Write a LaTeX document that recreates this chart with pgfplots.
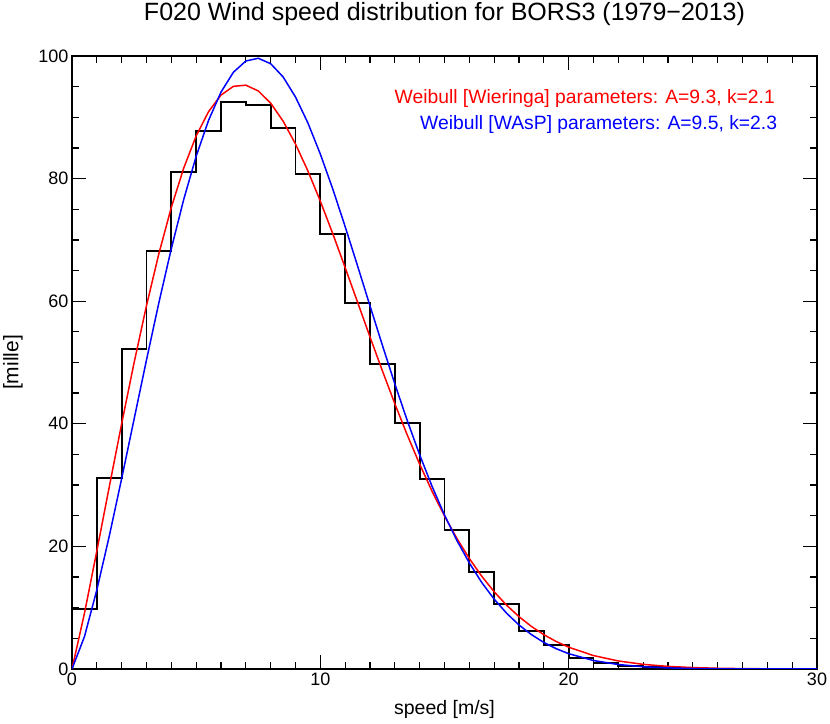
\documentclass[border=0pt]{standalone}
\usepackage{fontspec}
\setmainfont{Liberation Sans}
\usepackage{pgfplots}
\pgfplotsset{compat=1.18}
\begin{document}
\begin{tikzpicture}
\begin{axis}[
 scale only axis, width=745pt, height=613pt,
 xmin=0, xmax=30, ymin=0, ymax=100,
 xtick={0,10,20,30}, ytick={0,20,40,60,80,100},
 minor x tick num=9, minor y tick num=3,
 tick align=inside, major tick length=14pt, minor tick length=7pt,
 tick style={line width=1.3pt, black},
 axis line style={line width=1.5pt},
 ticklabel style={font=\fontsize{18}{18}\selectfont},
 /pgf/number format/assume math mode=true,
 xlabel={speed [m/s]}, ylabel={[mille]},
 xlabel style={font=\fontsize{19.5}{19.5}\selectfont, at={(axis description cs:0.5,-0.075)}, anchor=base},
 ylabel style={font=\fontsize{21}{21}\selectfont, at={(axis description cs:-0.0792,0.5)}, anchor=center},
 title={F020 Wind speed distribution for BORS3 (1979−2013)},
 title style={font=\fontsize{25}{25}\selectfont, at={(axis description cs:0.5,1.0473)}, anchor=base},
]
\coordinate (sw) at (rel axis cs:0,0);
\coordinate (ne) at (rel axis cs:1,1);
\addplot[black, line width=1.7pt, const plot mark left] coordinates {
(0,9.8)(1,31.2)(2,52.2)(3,68.2)(4,81.1)(5,87.8)(6,92.5)(7,92.0)(8,88.3)(9,80.8)
(10,71.0)(11,59.7)(12,49.7)(13,40.1)(14,31.0)(15,22.7)(16,15.8)(17,10.6)(18,6.2)(19,3.9)
(20,1.85)(21,1.0)(22,0.5)(23,0.3)(24,0.15)(25,0.1)(26,0.05)(27,0)(28,0)(29,0)(30,0)};
\addplot[red, line width=1.5pt] coordinates {
(0,0)(0.5,9.05)(1,19.25)(1.5,29.70)(2,40.02)(2.5,49.96)(3,59.28)(3.5,67.78)(4,75.31)(4.5,81.73)
(5,86.96)(5.5,90.93)(6,93.62)(6.5,95.05)(7,95.24)(7.5,94.30)(8,92.31)(8.5,89.38)(9,85.64)(9.5,81.24)
(10,76.32)(10.5,71.02)(11,65.47)(11.5,59.83)(12,54.17)(12.5,48.63)(13,43.27)(13.5,38.18)(14,33.41)(14.5,28.99)
(15,24.95)(15.5,21.29)(16,18.02)(16.5,15.13)(17,12.60)(17.5,10.41)(18,8.54)(18.5,6.94)(19,5.60)(19.5,4.48)
(20,3.56)(21,2.19)(22,1.31)(23,0.756)(24,0.423)(25,0.230)(26,0.121)(27,0.062)(28,0.03)(29,0.014)(30,0.006)};
\addplot[blue, line width=1.5pt] coordinates {
(0,0)(0.5,5.26)(1,12.90)(1.5,21.66)(2,31.06)(2.5,40.75)(3,50.42)(3.5,59.78)(4,68.58)(4.5,76.61)
(5,83.64)(5.5,89.51)(6,94.11)(6.5,97.35)(7,99.18)(7.5,99.63)(8,98.74)(8.5,96.59)(9,93.31)(9.5,89.07)
(10,84.00)(10.5,78.31)(11,72.16)(11.5,65.75)(12,59.24)(12.5,52.80)(13,46.51)(13.5,40.53)(14,34.94)(14.5,29.79)
(15,25.12)(15.5,20.96)(16,17.30)(16.5,14.11)(17,11.40)(17.5,9.10)(18,7.18)(18.5,5.61)(19,4.33)(19.5,3.31)
(20,2.50)(21,1.38)(22,0.728)(23,0.367)(24,0.177)(25,0.081)(26,0.035)(27,0.014)(28,0.005)(29,0.002)(30,0)};
\node[anchor=east, inner sep=0pt, text=red, font=\fontsize{19.3}{19.3}\selectfont] at (axis cs:28.31,93.1) {Weibull [Wieringa] parameters: A=9.3, k=2.1};
\node[anchor=east, inner sep=0pt, text=blue, font=\fontsize{19.3}{19.3}\selectfont] at (axis cs:28.4,88.9) {Weibull [WAsP] parameters: A=9.5, k=2.3};
\end{axis}
\pgfresetboundingbox
\path[use as bounding box] ([xshift=-72pt,yshift=-55pt]sw) rectangle ([xshift=13pt,yshift=56pt]ne);
\end{tikzpicture}
\end{document}
